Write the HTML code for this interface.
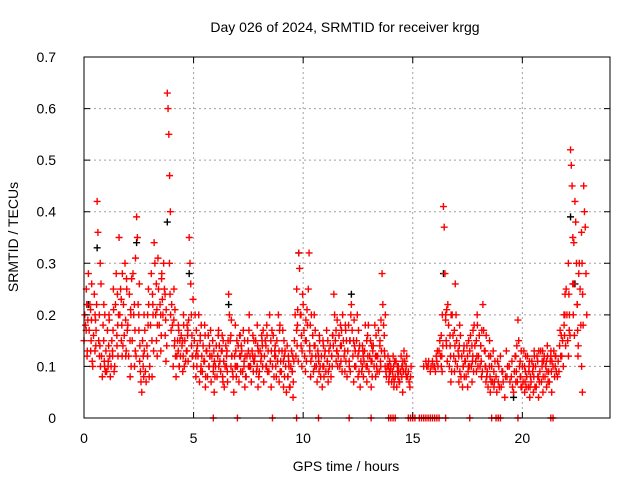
<!DOCTYPE html>
<html><head><meta charset="utf-8"><style>
body{margin:0;background:#fff}
svg{display:block;font-family:"Liberation Sans",sans-serif}
</style></head><body>
<svg id="chart" width="640" height="480">
<rect width="640" height="480" fill="#fff"/>
<text x="345" y="32" text-anchor="middle" font-size="14">Day 026 of 2024, SRMTID for receiver krgg</text>
<text x="346" y="471" text-anchor="middle" font-size="14">GPS time / hours</text>
<text transform="translate(18,237) rotate(-90)" text-anchor="middle" font-size="14">SRMTID / TECUs</text>
<g id="grid"></g><g id="marks"></g><g id="axes"></g>
</svg>
<script>
const xTicks=[0,5,10,15,20];
const yTicks=[0,0.1,0.2,0.3,0.4,0.5,0.6,0.7];
const yTickLabels=["0","0.1","0.2","0.3","0.4","0.5","0.6","0.7"];
const times=[0,0.2,0.4,0.6,0.8,1,1.2,1.4,1.6,1.8,2,2.2,2.4,2.6,2.8,3,3.2,3.4,3.6,3.8,4,4.2,4.4,4.6,4.8,5,5.2,5.4,5.6,5.8,6,6.2,6.4,6.6,6.8,7,7.2,7.4,7.6,7.8,8,8.2,8.4,8.6,8.8,9,9.2,9.4,9.6,9.8,10,10.2,10.4,10.6,10.8,11,11.2,11.4,11.6,11.8,12,12.2,12.4,12.6,12.8,13,13.2,13.4,13.6,13.8,14,14.2,14.4,14.6,14.8,15,15.2,15.4,15.6,15.8,16,16.2,16.4,16.6,16.8,17,17.2,17.4,17.6,17.8,18,18.2,18.4,18.6,18.8,19,19.2,19.4,19.6,19.8,20,20.2,20.4,20.6,20.8,21,21.2,21.4,21.6,21.8,22,22.2,22.4,22.6,22.8];
const redValues=[[.15,.2,.18,.25,.12],[.28,.17,.22,.13,.19],[.1,.16,.24,.2,.14],[.42,.36,.15,.12,.3],[.12,.08,.18,.22,.1],[.13,.09,.17,.11,.2],[.08,.1,.15,.12,.25],[.1,.22,.28,.14,.18],[.35,.2,.25,.15,.12],[.22,.16,.3,.12,.27],[.18,.12,.24,.08,.2],[.15,.28,.2,.1,.13],[.39,.35,.22,.17,.11],[.07,.05,.15,.12,.2],[.09,.07,.14,.2,.25],[.1,.18,.28,.08,.22],[.34,.3,.2,.15,.12],[.25,.18,.22,.13,.27],[.2,.3,.25,.16,.11],[.63,.6,.55,.47,.4],[.22,.18,.1,.25,.15],[.08,.12,.15,.18,.1],[.12,.16,.14,.09,.2],[.15,.11,.13,.18,.17],[.35,.3,.26,.14,.12],[.1,.15,.2,.08,.13],[.12,.2,.07,.16,.1],[.09,.14,.11,.18,.06],[.13,.08,.16,.1,.12],[.07,.12,.15,.1,.05],[.1,.14,.08,.12,.17],[.11,.09,.13,.16,.07],[.06,.1,.14,.12,.09],[.24,.2,.15,.1,.12],[.08,.05,.12,.18,.1],[.1,.14,.07,.16,.12],[.13,.09,.17,.11,.06],[.08,.12,.15,.1,.2],[.1,.07,.13,.16,.11],[.12,.15,.09,.18,.06],[.09,.13,.11,.16,.14],[.07,.12,.15,.1,.18],[.13,.09,.2,.11,.06],[.1,.16,.08,.13,.12],[.15,.11,.2,.07,.18],[.09,.13,.17,.06,.12],[.1,.05,.14,.08,.11],[.06,.1,.13,.09,.04],[.15,.2,.12,.25,.18],[.32,.29,.2,.14,.1],[.22,.17,.12,.09,.15],[.18,.25,.32,.13,.08],[.12,.16,.09,.2,.14],[.1,.07,.13,.11,.16],[.08,.12,.06,.15,.1],[.13,.09,.17,.11,.07],[.1,.14,.08,.12,.16],[.24,.2,.15,.11,.13],[.12,.16,.1,.18,.14],[.2,.15,.12,.09,.17],[.08,.13,.18,.1,.15],[.22,.17,.12,.07,.14],[.1,.15,.2,.08,.13],[.06,.11,.09,.14,.12],[.13,.18,.1,.07,.16],[.09,.12,.15,.06,.11],[.14,.1,.18,.08,.12],[.12,.17,.09,.15,.1],[.28,.22,.18,.13,.1],[.08,.1,.12,.07,.09],[.1,.07,.09,.12,.06],[.08,.11,.06,.09,.1],[.07,.09,.12,.1,.05],[.13,.11,.09,.08],[.09,.07,.06],[],[],[],[.11,.1],[.09,.1],[.1,.09,.12],[.13,.15,.12,.1,.09],[.41,.37,.28,.2,.14],[.22,.18,.1,.14,.07],[.2,.16,.12,.09,.26],[.15,.1,.13,.07,.18],[.08,.12,.06,.1,.14],[.11,.08,.14,.06,.1],[.13,.16,.1,.07,.12],[.18,.14,.11,.09,.2],[.12,.16,.1,.14,.08],[.22,.17,.13,.1,.07],[.09,.06,.12,.15,.05],[.1,.07,.13,.06],[.08,.05,.11],[.12,.06,.09],[.04,.08,.13],[.1,.07],[.05,.09,.12,.07],[.19,.15,.1,.08,.06],[.1,.07,.13,.05,.09],[.08,.12,.06,.1,.04],[.07,.11,.09,.05,.13],[.1,.06,.12,.08,.04],[.09,.13,.07,.11,.05],[.12,.08,.1,.06,.14],[.09,.07,.11,.13,.05],[.1,.13,.08,.12],[.08,.11,.09],[.12,.15,.1,.18,.2],[.25,.2,.15,.12,.17],[.52,.49,.45,.35,.26],[.42,.38,.3,.22,.12],[.3,.25,.18,.1,.05],[.45,.4,.37,.28,.2]];
const redValues2=[[.17,.22,.13,.19],[.21,.15,.26,.11],[.13,.19,.17,.22],[.2,.14,.1,.26],[.15,.11,.2,.09],[.1,.14,.19,.12],[.13,.17,.21,.09],[.16,.24,.12,.2],[.23,.18,.28,.14],[.19,.13,.25,.17],[.15,.21,.1,.27],[.22,.17,.31,.12],[.2,.26,.14,.09],[.1,.08,.13,.17],[.12,.18,.22,.08],[.15,.24,.2,.13],[.26,.21,.18,.31],[.2,.16,.28,.23],[.24,.19,.21,.14],[.3,.24,.2,.17],[.19,.14,.21,.12],[.13,.17,.1,.15],[.15,.12,.18,.1],[.13,.16,.11,.19],[.2,.16,.12,.23],[.12,.17,.1,.14],[.15,.09,.18,.12],[.11,.16,.08,.13],[.1,.14,.12,.17],[.09,.13,.11,.08],[.12,.16,.1,.14],[.13,.08,.15,.11],[.1,.13,.07,.15],[.16,.19,.12,.09],[.1,.13,.08,.15],[.12,.16,.09,.14],[.1,.15,.12,.08],[.13,.17,.1,.12],[.12,.09,.15,.11],[.1,.14,.13,.08],[.12,.15,.1,.17],[.14,.1,.16,.09],[.11,.15,.13,.17],[.12,.14,.1,.08],[.13,.17,.09,.11],[.11,.15,.08,.13],[.08,.12,.1,.06],[.09,.12,.07,.11],[.17,.14,.21,.11],[.2,.16,.13,.24],[.15,.19,.11,.21],[.14,.18,.11,.2],[.14,.1,.17,.12],[.12,.09,.15,.1],[.1,.14,.08,.12],[.11,.15,.09,.13],[.12,.1,.16,.14],[.17,.13,.19,.1],[.14,.11,.17,.09],[.13,.18,.11,.15],[.11,.15,.09,.2],[.15,.19,.1,.13],[.12,.17,.09,.14],[.1,.13,.08,.11],[.15,.1,.12,.18],[.11,.14,.08,.13],[.12,.16,.1,.09],[.14,.11,.19,.13],[.16,.12,.2,.09],[.1,.08,.11,.09],[.08,.1,.07,.11],[.1,.08,.09,.07],[.08,.1,.11,.09],[.1,.12,.08],[.08,.1],[],[],[.1],[.1,.11],[.11,.1],[.11,.13,.1],[.16,.12,.2,.14],[.19,.15,.21,.11],[.16,.12,.2,.09],[.17,.14,.11,.2],[.12,.14,.09,.16],[.1,.13,.08,.11],[.12,.09,.15,.1],[.14,.11,.17,.09],[.15,.12,.18,.1],[.14,.11,.17,.09],[.13,.1,.16,.08],[.1,.08,.12,.07],[.09,.07,.11],[.07,.1,.06],[.09,.07],[.08,.1],[.08,.11,.06],[.12,.09,.14,.07],[.11,.08,.13,.06],[.1,.07,.12,.06],[.09,.11,.06,.08],[.1,.08,.12,.06],[.11,.08,.13,.07],[.1,.13,.08,.11],[.11,.09,.12,.07],[.12,.09,.11],[.1,.12,.09],[.14,.17,.12,.16],[.2,.16,.24,.14],[.3,.24,.2,.16],[.26,.2,.34,.16],[.22,.17,.14,.28],[.36,.3,.24,.18]];
const zeroTimes=[5.9,7.0,8.6,9.7,10.7,12.1,13.1,13.9,14.0,14.1,14.2,14.8,14.9,15.0,15.1,15.3,15.4,15.5,15.6,15.7,15.8,15.9,16.0,16.1,16.2,16.5,17.6,18.6,18.8,18.9,19.0,19.8,21.3,21.4];
const blackTimes=[0.6,3.8,4.8,9.8,16.4,22.2,22.4,12.2,6.6,19.6,0.2,2.4];
const blackValues=[.33,.38,.28,.32,.28,.39,.26,.24,.22,.04,.22,.34];

const L=84,R=610,T=57,B=418;
const xS=v=>L+(v/24)*(R-L);
const yS=v=>B-(v/0.7)*(B-T);
const NS="http://www.w3.org/2000/svg";
function mk(tag,attrs,parent){const e=document.createElementNS(NS,tag);for(const k in attrs)e.setAttribute(k,attrs[k]);parent.appendChild(e);return e;}
const grid=document.getElementById('grid'),marks=document.getElementById('marks'),axes=document.getElementById('axes');
xTicks.forEach((t,i)=>{
  const x=xS(t);
  if(t>0){const g=mk('line',{x1:x,x2:x,y1:T,y2:B,stroke:'#a0a0a0','stroke-dasharray':'2,3'},grid);
  
  }
  const tk=mk('path',{d:`M${x},${B}v-6M${x},${T}v6`,stroke:'#000'},axes);
  
  
  const lb=mk('text',{x:x,y:443,'text-anchor':'middle','font-size':14},axes);lb.textContent=String(t);
  
  
});
yTicks.forEach((t,i)=>{
  const y=yS(t);
  if(t>0&&t<0.7){const g=mk('line',{x1:L,x2:R,y1:y,y2:y,stroke:'#a0a0a0','stroke-dasharray':'2,3'},grid);
  
  }
  const tk=mk('path',{d:`M${L},${y}h6M${R},${y}h-6`,stroke:'#000'},axes);
  
  
  const lb=mk('text',{x:56,y:y+5,'text-anchor':'end','font-size':14},axes);lb.textContent=yTickLabels[i];
  
  
});
const frame=mk('rect',{x:L,y:T,width:R-L,height:B-T,fill:'none',stroke:'#000'},axes);


function plus(x,y,c,name){const p=mk('path',{d:`M${x-3.5},${y}h7M${x},${y-3.5}v7`,stroke:c,'stroke-width':1.4},marks);
  
  }
blackTimes.forEach((t,i)=>plus(xS(t),yS(blackValues[i]),'#000','black-point'));
times.forEach((t,i)=>(redValues[i]||[]).forEach((v,j)=>plus(xS(t+j*0.035),yS(v),'#f00','red-point')));
times.forEach((t,i)=>(redValues2[i]||[]).forEach((v,j)=>plus(xS(t+0.1+j*0.025),yS(v),'#f00','red-point')));
zeroTimes.forEach(t=>plus(xS(t),yS(0),'#f00','zero-point'));
</script>
</body></html>
